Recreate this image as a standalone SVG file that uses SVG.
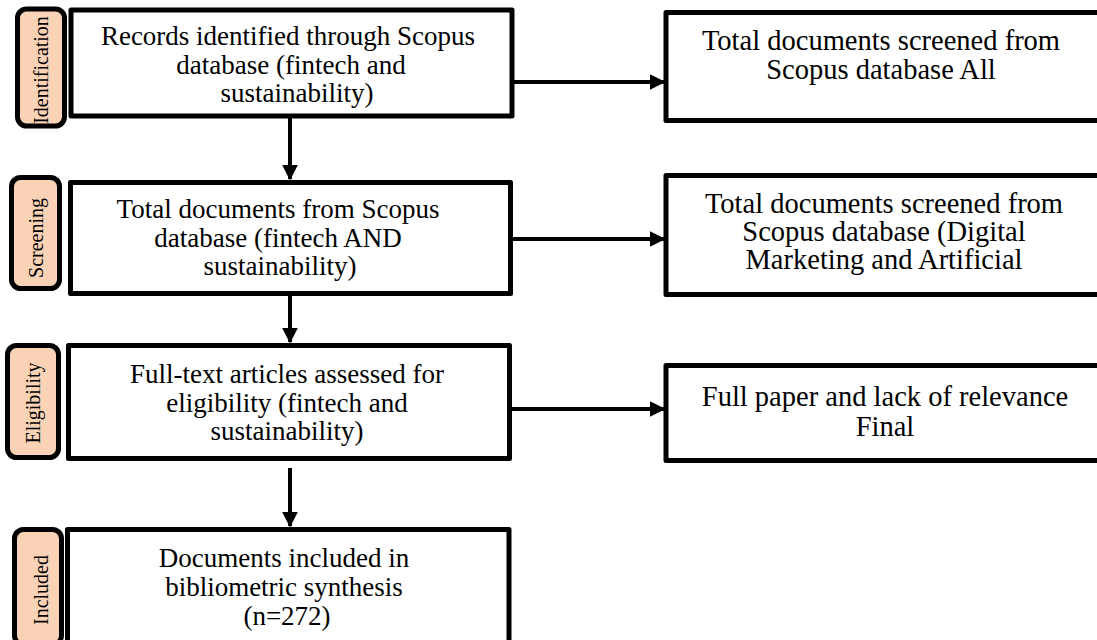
<svg xmlns="http://www.w3.org/2000/svg" width="1097" height="640" viewBox="0 0 1097 640">
<style>
.box{fill:#fff;stroke:#000;stroke-width:5;stroke-linejoin:round}
.lab{fill:#FAD3B6;stroke:#000;stroke-width:5}
.t{font-family:"Liberation Serif","Times New Roman",serif;font-size:27px;fill:#000;text-anchor:middle}
.r{font-family:"Liberation Serif","Times New Roman",serif;font-size:28.5px;fill:#000;text-anchor:middle}
.l{font-family:"Liberation Serif","Times New Roman",serif;font-size:20px;fill:#000;text-anchor:middle}
.c{fill:none;stroke:#000;stroke-width:4}
</style>
<defs>
<marker id="ah" markerWidth="4" markerHeight="4" refX="3.6" refY="2" orient="auto" markerUnits="strokeWidth">
<path d="M0,0 L4,2 L0,4 Z" fill="#000"/>
</marker>
<clipPath id="c1"><rect x="70" y="0" width="445" height="108"/></clipPath>
<clipPath id="c2"><rect x="70" y="180" width="445" height="104"/></clipPath>
</defs>
<g id="connectors">
<line class="c" x1="290" y1="118" x2="290" y2="179" marker-end="url(#ah)"/>
<line class="c" x1="290" y1="296" x2="290" y2="342" marker-end="url(#ah)"/>
<line class="c" x1="290" y1="468" x2="290" y2="526" marker-end="url(#ah)"/>
<line class="c" x1="513" y1="82" x2="664" y2="82" marker-end="url(#ah)"/>
<line class="c" x1="511" y1="239" x2="664" y2="239" marker-end="url(#ah)"/>
<line class="c" x1="511" y1="409" x2="664" y2="409" marker-end="url(#ah)"/>
</g>
<g id="label-identification">
<rect class="lab" x="17.5" y="9" width="47" height="117" rx="9"/>
<text class="l" transform="translate(48,70) rotate(-90)">Identification</text>
</g>
<g id="label-screening">
<rect class="lab" x="11.5" y="177.5" width="48" height="111" rx="9"/>
<text class="l" transform="translate(43,238) rotate(-90)">Screening</text>
</g>
<g id="label-eligibility">
<rect class="lab" x="7.5" y="345.5" width="51" height="112" rx="9"/>
<text class="l" transform="translate(40,403) rotate(-90)">Eligibility</text>
</g>
<g id="label-included">
<rect class="lab" x="14.5" y="529.5" width="47" height="115" rx="9"/>
<text class="l" transform="translate(48,590) rotate(-90)">Included</text>
</g>
<g id="box-records">
<rect class="box" x="71" y="10" width="441" height="106"/>
<text class="t" clip-path="url(#c1)"><tspan x="288" y="45">Records identified through Scopus</tspan><tspan x="291" y="74">database (fintech and</tspan><tspan x="297" y="102">sustainability)</tspan></text>
</g>
<g id="box-total">
<rect class="box" x="70.5" y="182.5" width="440" height="111"/>
<text class="t" clip-path="url(#c2)"><tspan x="278" y="218">Total documents from Scopus</tspan><tspan x="278" y="247">database (fintech AND</tspan><tspan x="280" y="275">sustainability)</tspan></text>
</g>
<g id="box-fulltext">
<rect class="box" x="68.5" y="345.5" width="441" height="113"/>
<text class="t"><tspan x="287" y="383">Full-text articles assessed for</tspan><tspan x="287" y="412">eligibility (fintech and</tspan><tspan x="287" y="440">sustainability)</tspan></text>
</g>
<g id="box-included">
<rect class="box" x="67.5" y="529.5" width="441.5" height="115"/>
<text class="t"><tspan x="284" y="567">Documents included in</tspan><tspan x="284" y="596">bibliometric synthesis</tspan><tspan x="287" y="625">(n=272)</tspan></text>
</g>
<g id="box-screened-all">
<rect class="box" x="666" y="12.5" width="450" height="108"/>
<text class="r"><tspan x="881" y="50">Total documents screened from</tspan><tspan x="881" y="79">Scopus database All</tspan></text>
</g>
<g id="box-screened-digital">
<rect class="box" x="666" y="175.5" width="450" height="119"/>
<text class="r"><tspan x="884" y="213">Total documents screened from</tspan><tspan x="884" y="241">Scopus database (Digital</tspan><tspan x="884" y="269">Marketing and Artificial</tspan></text>
</g>
<g id="box-fullpaper">
<rect class="box" x="666" y="365.5" width="450" height="95"/>
<text class="r"><tspan x="885" y="406">Full paper and lack of relevance</tspan><tspan x="885" y="436">Final</tspan></text>
</g>
</svg>
